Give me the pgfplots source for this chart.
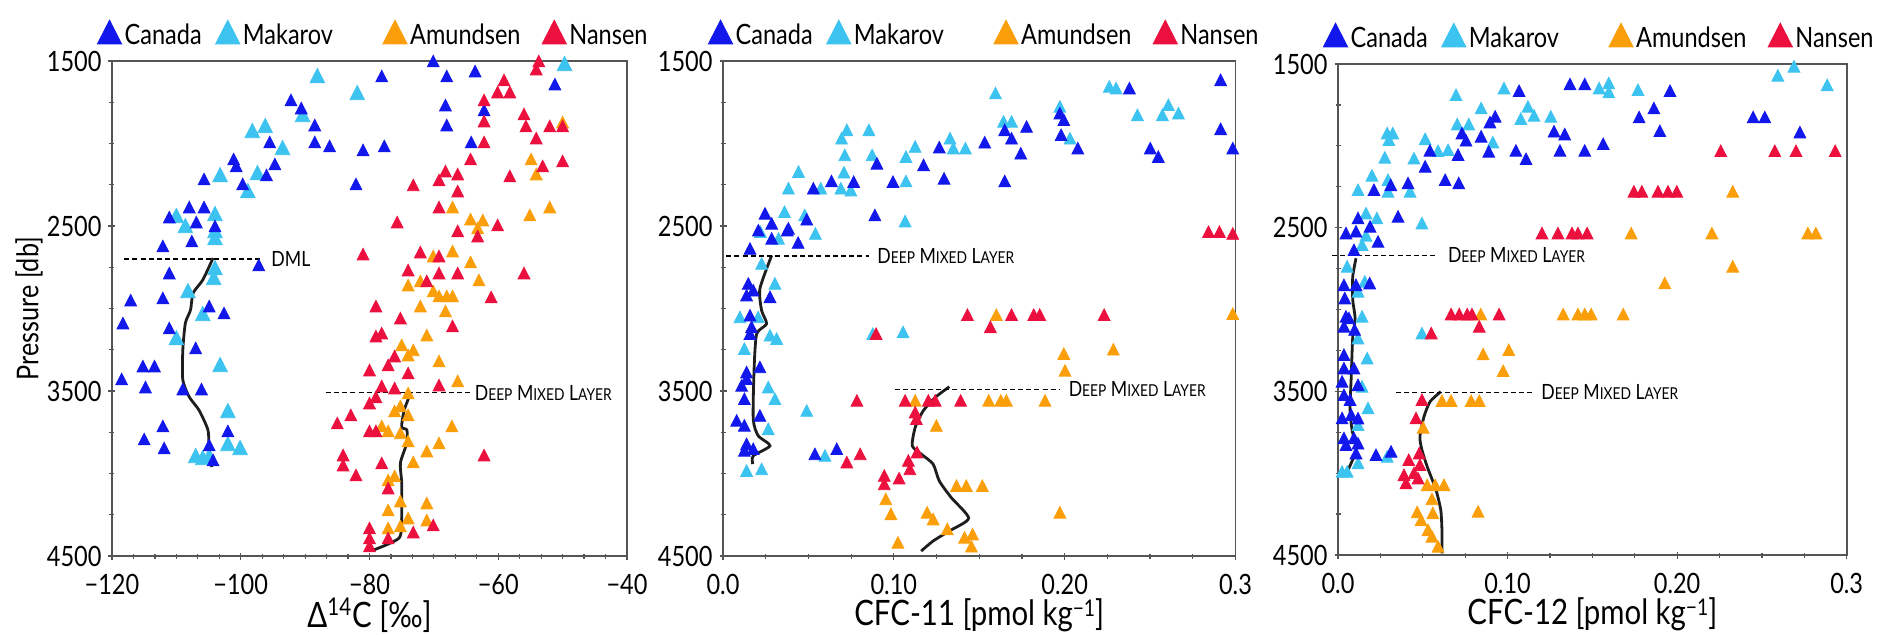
\documentclass[border=0pt]{standalone}
\usepackage{fontspec}
\setmainfont{Lato}[FakeStretch=0.84]
\usepackage{pgfplots}
\pgfplotsset{compat=1.18}

\definecolor{canC}{RGB}{18,24,235}
\definecolor{makC}{RGB}{60,195,240}
\definecolor{amuC}{RGB}{250,158,10}
\definecolor{nanC}{RGB}{236,16,62}
\definecolor{axC}{RGB}{85,85,85}

\newcommand{\tickfont}{\fontsize{14}{16}\selectfont}
\newcommand{\labfont}{\fontsize{17.5}{20}\selectfont}
\newcommand{\dmlfont}{\fontsize{10.5}{12}\selectfont}
\newcommand{\sm}[1]{{\fontsize{8.2}{10}\selectfont #1}}
\newcommand{\DML}{D\sm{EEP} M\sm{IXED} L\sm{AYER}}
\newcommand{\perkg}{kg\raisebox{0.5ex}{\fontsize{11.5}{12}\selectfont −1}}

\pgfplotsset{
  panel/.style={
    scale only axis, clip=false,
    y dir=reverse, ymin=1500, ymax=4500,
    ytick={1500,2500,3500,4500}, yticklabels={1500,2500,3500,4500},
    minor y tick num=3,
    xtick pos=bottom, ytick pos=left,
    tick align=center, major tick length=3.5pt, minor tick length=2.5pt,
    axis line style={draw=axC, line width=0.8pt},
    tick style={draw=axC, line width=0.6pt},
    tick label style={font=\tickfont},
    xticklabel style={inner sep=1pt},
    xticklabel shift=6.3pt,
    xlabel style={font=\labfont, inner sep=0pt, at={(axis description cs:0.5,-0.12)}, anchor=center},
    legend columns=4,
    legend style={at={(0,1)}, anchor=west, xshift=-7.5pt, yshift=13.5pt,
      draw=none, fill=none, inner sep=0pt, column sep=0pt, font=\tickfont,
      nodes={inner sep=0pt, anchor=west}},
    legend image code/.code={\draw[mark size=7pt] plot coordinates {(0pt,0pt)};},
  },
  canada/.style={only marks, mark=triangle*, mark size=3.4pt, color=canC, mark options={draw=none, fill=canC, yscale=1.13}},
  makarov/.style={only marks, mark=triangle*, mark size=3.4pt, color=makC, mark options={draw=none, fill=makC, yscale=1.13}},
  amundsen/.style={only marks, mark=triangle*, mark size=3.4pt, color=amuC, mark options={draw=none, fill=amuC, yscale=1.13}},
  nansen/.style={only marks, mark=triangle*, mark size=3.4pt, color=nanC, mark options={draw=none, fill=nanC, yscale=1.13}},
  mean/.style={color={rgb,255:red,30;green,30;blue,30}, line width=1.4pt, smooth, tension=0.4, no marks},
  dml/.style={black, line width=0.8pt, dash pattern=on 2.5pt off 1.6pt, no marks},
}

\newcommand{\legendrow}{%
  \addlegendimage{canada}\addlegendentry{\makebox[47pt][l]{\hspace{1.5pt}Canada}}
  \addlegendimage{makarov}\addlegendentry{\makebox[71.5pt][l]{\hspace{1.5pt}Makarov}}
  \addlegendimage{amundsen}\addlegendentry{\makebox[67.5pt][l]{\hspace{1.5pt}Amundsen}}
  \addlegendimage{nansen}\addlegendentry{\hspace{1.5pt}Nansen}
}

\begin{document}
\begin{tikzpicture}
\path[use as bounding box] (0,0) rectangle (943.5pt,317pt);

% ---------------- Delta 14C
\begin{axis}[panel, at={(56pt,39pt)}, anchor=south west, width=257.5pt, height=247.5pt,
  xmin=-120, xmax=-40, xtick={-120,-100,-80,-60,-40},
  xticklabels={−120,−100,−80,−60,−40}, minor x tick num=5,
  xlabel={Δ\textsuperscript{14}C [‰]},
  ylabel={Pressure [db]},
  ylabel style={font=\fontsize{15}{17}\selectfont, at={(axis description cs:-0.161,0.5)}, anchor=center},
]
\legendrow
\addplot[makarov, mark size=4.2pt] coordinates {
(-88.1,1603) (-81.9,1706) (-49.7,1530) (-90.4,1839) (-98.2,1936) (-96.2,1906)
(-93.5,2039) (-103.2,2203) (-97.4,2191) (-98.9,2300) (-110.0,2451) (-108.6,2512)
(-104.0,2439) (-104.0,2542) (-104.0,2585) (-104.2,2827) (-104.0,2767) (-108.2,2906)
(-105.9,3045) (-110.0,3191) (-103.2,3354) (-102.0,3633) (-102.0,3833) (-100.1,3857)
(-107.0,3906) (-105.9,3918) (-104.9,3906)};
\addplot[canada] coordinates {
(-70.1,1512) (-78.1,1603) (-68.0,1603) (-63.6,1573) (-51.2,1652) (-92.2,1748)
(-90.6,1797) (-68.2,1779) (-62.2,1809) (-88.5,1900) (-68.0,1900) (-95.5,2003)
(-88.5,2003) (-86.2,2027) (-81.0,2051) (-77.7,2027) (-64.2,2003) (-101.1,2106)
(-100.7,2148) (-94.7,2136) (-96.0,2203) (-105.7,2227) (-99.7,2257) (-82.1,2257)
(-108.0,2397) (-105.7,2397) (-111.1,2458) (-106.9,2488) (-104.0,2512) (-107.6,2603)
(-112.1,2633) (-97.2,2748) (-111.1,2797) (-117.1,2961) (-112.1,2948) (-104.9,2997)
(-102.6,3039) (-118.3,3100) (-111.1,3130) (-107.0,3251) (-115.2,3361) (-113.4,3361)
(-118.5,3439) (-114.8,3488) (-109.0,3500) (-106.1,3500) (-112.1,3724) (-102.0,3754)
(-115.0,3803) (-111.9,3857) (-104.9,3839) (-104.3,3930)};
\addplot[amundsen] coordinates {
(-50.0,1882) (-54.9,2106) (-54.1,2197) (-67.1,2397) (-52.0,2397) (-55.1,2445)
(-64.3,2470) (-62.4,2476) (-63.2,2524) (-67.1,2664) (-70.1,2694) (-64.3,2730)
(-63.0,2839) (-74.0,2870) (-72.1,2845) (-70.1,2906) (-69.2,2936) (-68.0,2936)
(-67.1,2936) (-72.1,2997) (-68.2,3027) (-71.1,3173) (-75.0,3233) (-73.2,3263)
(-74.0,3294) (-69.2,3330) (-66.3,3451) (-74.0,3524) (-75.2,3603) (-76.1,3633)
(-74.0,3657) (-78.1,3724) (-77.1,3754) (-75.2,3766) (-67.2,3724) (-74.0,3815)
(-69.2,3827) (-71.1,3876) (-73.2,3942) (-77.1,4051) (-76.1,4027) (-75.2,4179)
(-77.1,4233) (-71.1,4191) (-74.0,4282) (-71.1,4294) (-77.1,4342) (-75.2,4330)};
\addplot[nansen] coordinates {
(-53.7,1512) (-54.1,1561) (-59.1,1627) (-60.1,1700) (-58.2,1700) (-62.2,1748)
(-56.0,1833) (-62.2,1876) (-55.7,1906) (-52.0,1906) (-50.0,1906) (-54.1,1979)
(-62.2,2003) (-64.3,2106) (-50.0,2118) (-53.1,2148) (-68.2,2179) (-66.3,2197)
(-69.2,2233) (-58.2,2209) (-73.2,2263) (-66.3,2300) (-69.2,2397) (-75.7,2488)
(-60.1,2506) (-66.3,2542) (-63.2,2573) (-81.0,2682) (-72.1,2670) (-69.2,2694)
(-74.0,2779) (-69.2,2797) (-66.3,2797) (-56.0,2797) (-71.1,2845) (-61.1,2942)
(-79.0,2997) (-75.2,3070) (-67.1,3118) (-79.0,3179) (-78.1,3161) (-76.1,3300)
(-77.1,3354) (-80.0,3385) (-74.0,3403) (-78.1,3482) (-76.1,3494) (-69.2,3476)
(-79.0,3548) (-80.0,3585) (-82.9,3657) (-85.0,3706) (-80.0,3754) (-79.0,3754)
(-84.1,3900) (-84.1,3961) (-78.1,3948) (-82.1,4021) (-77.1,4100) (-62.2,3900)
(-80.0,4342) (-80.0,4403) (-80.0,4451) (-77.1,4403) (-73.2,4367) (-70.1,4324)};
\addplot[mean] coordinates {
(-104.3,2694) (-105.9,2827) (-107.4,2906) (-107.8,3009) (-108.6,3088) (-109.0,3251)
(-109.0,3433) (-108.0,3536) (-106.5,3615) (-105.1,3736) (-104.9,3857) (-104.5,3961)};
\addplot[mean] coordinates {
(-73.6,3512) (-74.6,3615) (-75.0,3718) (-74.2,3736) (-74.2,3815) (-75.2,3936)
(-75.0,4057) (-75.0,4264) (-75.4,4391) (-79.4,4464)};
\addplot[dml] coordinates {(-118.1,2699) (-96.5,2699)};
\addplot[dml] coordinates {(-86.8,3510) (-64.3,3510)};
\node[anchor=west, font=\dmlfont, inner sep=1pt] at (axis cs:-95.6,2699) {DML};
\node[anchor=west, font=\dmlfont, inner sep=1pt] at (axis cs:-64.0,3510) {\DML};
\end{axis}

% ---------------- CFC-11
\begin{axis}[panel, at={(361.5pt,39pt)}, anchor=south west, width=256.25pt, height=247.5pt,
  xmin=0, xmax=0.3, xtick={0,0.1,0.2,0.3},
  xticklabels={0.0,0.10,0.20,0.3}, minor x tick num=3,
  xlabel={CFC-11 [pmol \perkg]},
]
\legendrow
\addplot[makarov] coordinates {
(0.1595,1706) (0.2261,1666) (0.2301,1676) (0.1972,1787) (0.2607,1777) (0.2572,1838)
(0.2666,1828) (0.2426,1838) (0.1642,1878) (0.1689,1878) (0.2031,1980) (0.1329,1980)
(0.1348,2040) (0.1419,2040) (0.1125,2030) (0.1071,2091) (0.0854,1929) (0.0725,1929)
(0.0694,1980) (0.0713,2081) (0.0873,2081) (0.0708,2186) (0.0442,2182) (0.0383,2283)
(0.0572,2283) (0.0690,2283) (0.0748,2294) (0.1071,2239) (0.1066,2482) (0.0360,2425)
(0.0478,2445) (0.0219,2546) (0.0541,2557) (0.0325,2587) (0.0226,2739) (0.0304,2860)
(0.0099,3063) (0.0206,3063) (0.0275,3174) (0.0314,3194) (0.0125,3255) (0.0265,3488)
(0.0304,3559) (0.0490,3630) (0.0265,3741) (0.0138,3994) (0.0226,3984) (0.0597,3903)
(0.1054,3154) (0.0877,3164)};
\addplot[canada] coordinates {
(0.2913,1626) (0.2913,1923) (0.2984,2040) (0.2379,1676) (0.1972,1828) (0.1995,1868)
(0.1979,1959) (0.1777,1909) (0.1649,1929) (0.1689,1980) (0.1743,2071) (0.1532,2004)
(0.1649,2239) (0.1266,2034) (0.1174,2142) (0.1294,2223) (0.0995,2243) (0.0901,2132)
(0.0765,2243) (0.0635,2239) (0.0529,2283) (0.0889,2445) (0.2077,2040) (0.2501,2040)
(0.2548,2091) (0.0246,2435) (0.0285,2496) (0.0376,2537) (0.0490,2471) (0.0440,2612)
(0.0285,2587) (0.0158,2648) (0.0383,2526) (0.0207,2537) (0.0148,2860) (0.0177,2901)
(0.0138,2931) (0.0275,2941) (0.0158,3053) (0.0167,3123) (0.0158,3164) (0.0216,3366)
(0.0138,3397) (0.0109,3478) (0.0138,3437) (0.0125,3559) (0.0080,3690) (0.0216,3660)
(0.0125,3720) (0.0138,3832) (0.0125,3872) (0.0177,3862) (0.0538,3893) (0.0666,3862)};
\addplot[amundsen] coordinates {
(0.1600,3049) (0.2984,3043) (0.1995,3285) (0.2285,3259) (0.2002,3387) (0.1125,3569)
(0.1555,3569) (0.1626,3569) (0.1659,3569) (0.1885,3569) (0.1249,3721) (0.1367,4085)
(0.1424,4085) (0.1518,4085) (0.0953,4166) (0.0983,4257) (0.1195,4247) (0.1230,4288)
(0.1972,4247) (0.1313,4348) (0.1414,4399) (0.1461,4379) (0.1024,4429) (0.1454,4453)};
\addplot[nansen] coordinates {
(0.2842,2546) (0.2906,2546) (0.2984,2557) (0.1431,3049) (0.1689,3049) (0.1819,3049)
(0.1854,3049) (0.2231,3049) (0.1565,3123) (0.0896,3164) (0.0784,3569) (0.1066,3569)
(0.1202,3569) (0.1242,3569) (0.1391,3569) (0.1125,3640) (0.1132,3680) (0.1136,3882)
(0.0803,3893) (0.0725,3943) (0.1085,3933) (0.1094,3984) (0.0944,4024) (0.1031,4040)
(0.0944,4075)};
\addplot[mean] coordinates {
(0.0285,2678) (0.0216,2880) (0.0226,3012) (0.0255,3093) (0.0197,3154) (0.0182,3366)
(0.0177,3670) (0.0206,3771) (0.0275,3832) (0.0177,3893) (0.0174,3943)};
\addplot[mean] coordinates {
(0.1325,3474) (0.1242,3539) (0.1172,3620) (0.1125,3721) (0.1108,3832) (0.1160,3882)
(0.1230,3943) (0.1266,4045) (0.1336,4146) (0.1438,4271) (0.1325,4348) (0.1230,4409)
(0.1160,4470)};
\addplot[dml] coordinates {(0.0019,2683) (0.0854,2683)};
\addplot[dml] coordinates {(0.1007,3490) (0.1972,3490)};
\node[anchor=west, font=\dmlfont, inner sep=1pt] at (axis cs:0.089,2683) {\DML};
\node[anchor=west, font=\dmlfont, inner sep=1pt] at (axis cs:0.201,3490) {\DML};
\end{axis}

% ---------------- CFC-12
\begin{axis}[panel, at={(669pt,39.5pt)}, anchor=south west, width=254.35pt, height=245.5pt,
  xmin=0, xmax=0.3, xtick={0,0.1,0.2,0.3},
  xticklabels={0.0,0.10,0.20,0.3}, minor x tick num=3,
  xlabel={CFC-12 [pmol \perkg]},
]
\legendrow
\addplot[makarov] coordinates {
(0.2594,1581) (0.2689,1526) (0.2885,1639) (0.1769,1669) (0.1540,1659) (0.1597,1628)
(0.1597,1683) (0.0979,1659) (0.0696,1700) (0.1120,1771) (0.1078,1846) (0.1156,1826)
(0.1255,1832) (0.0844,1781) (0.0771,1879) (0.0703,1879) (0.0290,1934) (0.0323,1934)
(0.0300,1975) (0.0514,1969) (0.0913,1989) (0.0590,2042) (0.0649,2036) (0.0276,2082)
(0.0448,2087) (0.0200,2192) (0.0295,2219) (0.0118,2280) (0.0295,2290) (0.0425,2290)
(0.0165,2423) (0.0229,2453) (0.0495,2484) (0.0165,2559) (0.0142,2616) (0.0054,2748)
(0.0158,2840) (0.0118,2901) (0.0142,3054) (0.0118,3187) (0.0172,3309) (0.0142,3482)
(0.0177,3614) (0.0118,3716) (0.0495,3156) (0.0290,3909) (0.0118,3950) (0.0024,4001)
(0.0054,4001)};
\addplot[canada] coordinates {
(0.1368,1634) (0.1455,1634) (0.1068,1675) (0.1958,1675) (0.1863,1781) (0.1776,1836)
(0.1898,1920) (0.2448,1836) (0.2517,1836) (0.2724,1928) (0.0927,1832) (0.0896,1867)
(0.1274,1923) (0.1337,1940) (0.1564,1999) (0.1455,2040) (0.1309,2040) (0.1049,2040)
(0.1109,2091) (0.0889,2046) (0.0844,1954) (0.0731,1934) (0.0755,1978) (0.0708,2066)
(0.0542,2040) (0.0514,2137) (0.0632,2219) (0.0712,2239) (0.0413,2239) (0.0311,2250)
(0.0212,2280) (0.0354,2443) (0.0118,2453) (0.0047,2545) (0.0106,2534) (0.0189,2504)
(0.0236,2596) (0.0094,2647) (0.0035,2861) (0.0040,2942) (0.0106,2861) (0.0187,2851)
(0.0047,3054) (0.0064,3064) (0.0098,3134) (0.0035,3115) (0.0035,3288) (0.0035,3370)
(0.0094,3370) (0.0024,3451) (0.0118,3472) (0.0035,3533) (0.0071,3563) (0.0024,3675)
(0.0078,3655) (0.0118,3676) (0.0035,3797) (0.0094,3797) (0.0047,3838) (0.0118,3829)
(0.0106,3889) (0.0224,3899) (0.0313,3879)};
\addplot[amundsen] coordinates {
(0.2328,2290) (0.1729,2545) (0.2205,2545) (0.2771,2545) (0.2818,2545) (0.2328,2748)
(0.1927,2850) (0.0842,3040) (0.1328,3040) (0.1415,3040) (0.1455,3040) (0.1493,3040)
(0.1682,3040) (0.0856,3284) (0.1007,3258) (0.0974,3386) (0.0613,3569) (0.0667,3569)
(0.0785,3569) (0.0833,3569) (0.0502,3732) (0.0526,4083) (0.0573,4083) (0.0625,4083)
(0.0554,4169) (0.0467,4249) (0.0559,4255) (0.0826,4245) (0.0490,4297) (0.0531,4358)
(0.0554,4398) (0.0590,4459)};
\addplot[nansen] coordinates {
(0.2257,2042) (0.2576,2042) (0.2701,2042) (0.2932,2042) (0.1745,2290) (0.1792,2290)
(0.1887,2290) (0.1946,2290) (0.1998,2290) (0.1203,2545) (0.1297,2545) (0.1380,2545)
(0.1415,2545) (0.1469,2545) (0.0667,3040) (0.0715,3040) (0.0762,3040) (0.0790,3040)
(0.0950,3040) (0.0833,3115) (0.0550,3156) (0.0495,3563) (0.0460,3675) (0.0479,3889)
(0.0417,3930) (0.0483,3960) (0.0389,4022) (0.0448,4011) (0.0472,4042) (0.0401,4072)};
\addplot[mean] coordinates {
(0.0106,2687) (0.0087,2799) (0.0087,2942) (0.0101,3054) (0.0087,3166) (0.0078,3411)
(0.0071,3614) (0.0083,3736) (0.0106,3858) (0.0059,3981)};
\addplot[mean] coordinates {
(0.0606,3502) (0.0543,3563) (0.0507,3655) (0.0483,3777) (0.0495,3858) (0.0526,3960)
(0.0578,4103) (0.0606,4225) (0.0613,4347) (0.0613,4490)};
\addplot[dml] coordinates {(-0.0035,2669) (0.0590,2669)};
\addplot[dml] coordinates {(0.0342,3506) (0.1144,3506)};
\node[anchor=west, font=\dmlfont, inner sep=1pt] at (axis cs:0.0635,2669) {\DML};
\node[anchor=west, font=\dmlfont, inner sep=1pt] at (axis cs:0.1185,3506) {\DML};
\end{axis}
\end{tikzpicture}
\end{document}
